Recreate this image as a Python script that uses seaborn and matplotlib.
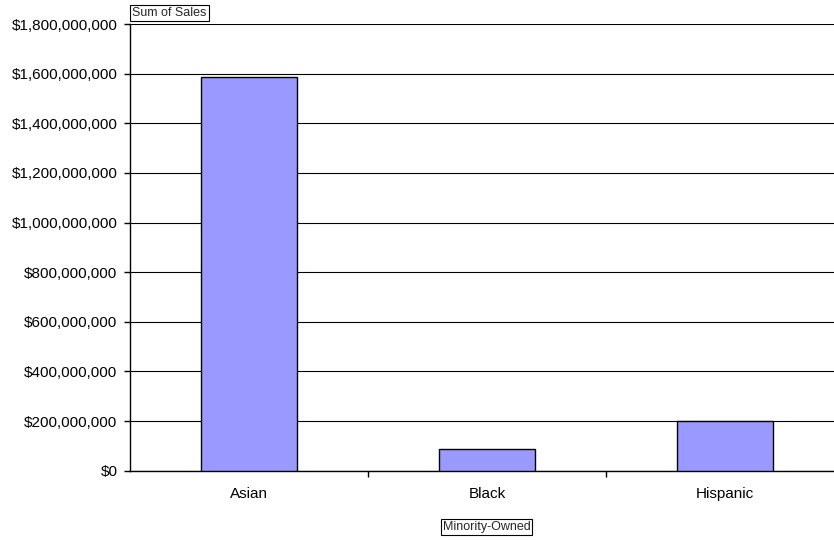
import matplotlib
matplotlib.use('Agg')
import matplotlib.pyplot as plt
import seaborn as sns
import pandas as pd
from matplotlib.ticker import FuncFormatter, MultipleLocator, FixedLocator

groups = ["Asian", "Black", "Hispanic"]
sales = [1586000000, 88600000, 201000000]

df = pd.DataFrame({"group": groups, "sales": sales})

sns.set_style("white")
plt.rcParams['font.family'] = ['Liberation Sans', 'DejaVu Sans']

fig = plt.figure(figsize=(8.34, 5.4), dpi=100)
ax = fig.add_axes([130 / 834, 1 - 470.7 / 540, 1 - 130 / 834, (470.7 - 24) / 540])

sns.barplot(data=df, x="group", y="sales", color="#9999FF", edgecolor="black",
            linewidth=1, width=0.4, saturation=1, ax=ax, zorder=3)

ax.set_ylim(0, 1.8e9)
ax.set_xlim(-0.5, 2.5 - 10 / 238)
ax.yaxis.set_major_locator(MultipleLocator(2e8))
ax.yaxis.set_major_formatter(FuncFormatter(lambda v, p: f"${v:,.0f}"))
ax.grid(axis="y", color="black", linewidth=0.8, zorder=0)
ax.set_axisbelow(True)

ax.xaxis.set_minor_locator(FixedLocator([0.5, 1.5]))
ax.tick_params(axis="x", which="major", length=0, pad=12, labelsize=11, colors="black")
ax.tick_params(axis="x", which="minor", length=4, width=1, direction="out", bottom=True, color="black")
ax.tick_params(axis="y", length=4, width=1, direction="out", left=True, pad=5, labelsize=11, colors="black")

for s in ["top", "right"]:
    ax.spines[s].set_visible(False)
for s in ["left", "bottom"]:
    ax.spines[s].set_color("black")
    ax.spines[s].set_linewidth(1)

ax.set_xlabel("")
ax.set_ylabel("")

box = dict(boxstyle="square,pad=0.15", facecolor="white", edgecolor="black", linewidth=0.8)
fig.text(169.5 / 834, 1 - 13 / 540, "Sum of Sales", ha="center", va="center", fontsize=9, bbox=box)
fig.text(486.7 / 834, 1 - 527 / 540, "Minority-Owned", ha="center", va="center", fontsize=9, bbox=box)

fig.savefig("out.png", dpi=100)
